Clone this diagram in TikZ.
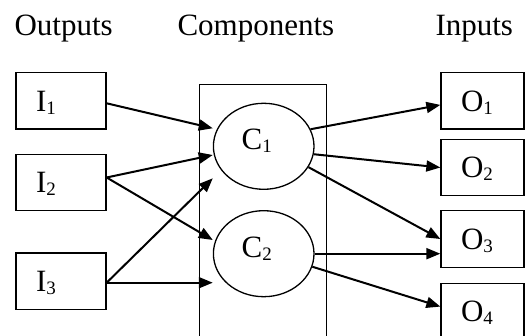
\documentclass[tikz,border=0pt]{standalone}
\usepackage{fontspec}
\setmainfont{Liberation Serif}
\usetikzlibrary{arrows.meta,shapes.geometric}
% lowered index digit
\newcommand\subidx[1]{\raisebox{-3pt}{\fontsize{19}{19}\selectfont #1}}
\begin{document}
\begin{tikzpicture}[x=1pt,y=-1pt,
  every node/.style={font=\fontsize{31}{31}\selectfont},
  box/.style={draw, line width=1.3pt, rectangle, inner xsep=20pt, inner ysep=0pt,
    minimum height=56.5pt, align=left, text depth=0pt},
  ibox/.style={box, text width=50pt},
  obox/.style={box, text width=43pt},
  comp/.style={draw, ellipse, line width=1.3pt, minimum width=100.6pt,
    minimum height=86pt, inner sep=0pt, text height=20pt, text depth=12.6pt},
  frame/.style={draw, rectangle, line width=1.3pt, minimum width=127.4pt,
    minimum height=280pt, inner sep=0pt},
  link/.style={line width=2pt, -{Triangle[length=14pt,width=11pt]}}
]
\useasboundingbox (0,0) rectangle (525,336);
\clip (0,0) rectangle (525,336);

% column headings
\node[anchor=base west] (hout) at (11,36) {Outputs};
\node[anchor=base west] (hcomp) at (174,36) {Components};
\node[anchor=base west] (hin) at (432,36) {Inputs};

% component frame (runs off the bottom edge)
\node[frame, anchor=north] (frm) at (263,84) {};

% left column
\node[ibox] (I1) at (61,100.9) {I\subidx{1}};
\node[ibox] (I2) at (61,182.5) {I\subidx{2}};
\node[ibox] (I3) at (61,281.3) {I\subidx{3}};

% components
\node[comp] (C1) at (263.7,146.3) {C\subidx{1}\kern14pt};
\node[comp] (C2) at (263.7,253.7) {C\subidx{2}\kern14pt};

% right column
\node[obox] (O1) at (482.5,100.9) {O\subidx{1}};
\node[obox] (O2) at (482.5,167.5) {O\subidx{2}};
\node[obox] (O3) at (482.5,239) {O\subidx{3}};
\node[obox] (O4) at (482.5,311.6) {O\subidx{4}};

% incoming links
\draw[link] ([yshift=-2.4pt]I1.east) -- ([yshift=18pt]C1.west);
\draw[link] ([yshift=5pt]I2.east) -- ([yshift=-8.7pt]C1.west);
\draw[link] ([yshift=5pt]I2.east) -- ([yshift=13.7pt]C2.west);
\draw[link] ([yshift=-1.4pt]I3.east) -- ([yshift=-32pt]C1.west);
\draw[link] ([yshift=-1.4pt]I3.east) -- ([yshift=-29pt]C2.west);

% outgoing links
\draw[link] (C1.20) -- ([yshift=-4pt]O1.west);
\draw[link] (C1.-9) -- (O2.west);
\draw[link] (C1.-25) -- (O3.west);
\draw[link] (C2.east) -- (C2.east -| O3.west);
\draw[link] (C2.-15) -- ([yshift=5pt]O4.west);
\end{tikzpicture}
\end{document}
